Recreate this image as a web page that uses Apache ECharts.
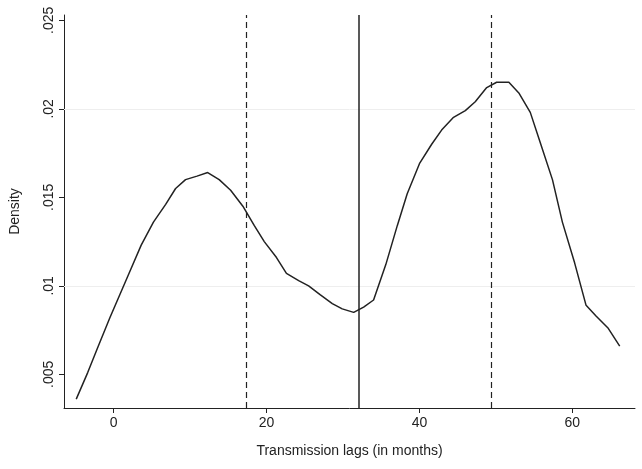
<!DOCTYPE html>
<html><head><meta charset="utf-8">
<script src="https://cdn.jsdelivr.net/npm/echarts@6/dist/echarts.min.js"></script>
<style>html,body{margin:0;padding:0;background:#fff}#c{width:642px;height:469px}</style>
</head><body><div id="c"></div>
<script>
const lagX=[-4.9,-3.4,-2.1,-0.5,1.9,3.6,5.2,6.8,8.1,9.4,10.9,12.3,13.8,15.3,16.9,18.4,19.7,21.3,22.6,24.2,25.5,27.0,28.6,29.9,31.4,32.7,34.0,35.6,37.1,38.4,40.0,41.6,42.9,44.4,46.0,47.3,48.8,50.1,51.7,53.0,54.5,55.8,57.4,58.7,60.3,61.8,63.1,64.7,66.2];
const density=[.0036,.0051,.0065,.0082,.0106,.0123,.0136,.0146,.0155,.0160,.0162,.0164,.0160,.0154,.0145,.0134,.0125,.0116,.0107,.0103,.0100,.0095,.0090,.0087,.0085,.0088,.0092,.0112,.0134,.0152,.0169,.0180,.0188,.0195,.0199,.0204,.0212,.0215,.0215,.0209,.0198,.0181,.0160,.0136,.0113,.0089,.0083,.0076,.0066];
const xTicks=[0,20,40,60];
const yTicks=[0.005,0.01,0.015,0.02,0.025];
const yLabels=['.005','.01','.015','.02','.025'];
const dashedLines=[17.3,49.4];
const solidLines=[32.0];
const chart=echarts.init(document.getElementById('c'));
const gridMl=yTicks.map(v=>({yAxis:v,lineStyle:{color:'#eeeeee',type:'solid',width:1}}));
const ml=[];
dashedLines.forEach(v=>ml.push({xAxis:v,lineStyle:{color:'#222',type:[6,4],width:1.2}}));
solidLines.forEach(v=>ml.push({xAxis:v,lineStyle:{color:'#222',type:'solid',width:1.5}}));
chart.setOption({
 animation:false,
 grid:{left:60,right:7,top:15,bottom:61},
 xAxis:{type:'value',min:-6.5,max:68.2,name:'Transmission lags (in months)',nameLocation:'middle',nameGap:36,
  nameTextStyle:{fontSize:14,color:'#222',fontFamily:'Liberation Sans'},
  axisLine:{onZero:false,lineStyle:{color:'#222'}},splitLine:{show:false},
  axisTick:{customValues:xTicks,length:5,lineStyle:{color:'#222'}},
  axisLabel:{customValues:xTicks,fontSize:14,color:'#222',fontFamily:'Liberation Sans'}},
 yAxis:{type:'value',min:0.0031,max:0.0253,name:'Density',nameLocation:'middle',nameGap:42,
  nameTextStyle:{fontSize:14,color:'#222',fontFamily:'Liberation Sans'},
  axisLine:{show:true,onZero:false,lineStyle:{color:'#222'}},splitLine:{show:false},
  axisTick:{show:true,customValues:yTicks,length:5,lineStyle:{color:'#222'}},
  axisLabel:{customValues:yTicks,rotate:90,fontSize:14,color:'#222',fontFamily:'Liberation Sans',
   formatter:v=>{const i=yTicks.findIndex(t=>Math.abs(t-v)<1e-9);return i>=0?yLabels[i]:'';}}},
 series:[
  {type:'line',data:[],z:1,markLine:{silent:true,symbol:'none',label:{show:false},data:gridMl,z:1}},
  {type:'line',data:lagX.map((x,i)=>[x,density[i]]),showSymbol:false,z:5,
  lineStyle:{color:'#222',width:1.5},
  markLine:{silent:true,symbol:'none',label:{show:false},data:ml}}]
});
</script></body></html>
